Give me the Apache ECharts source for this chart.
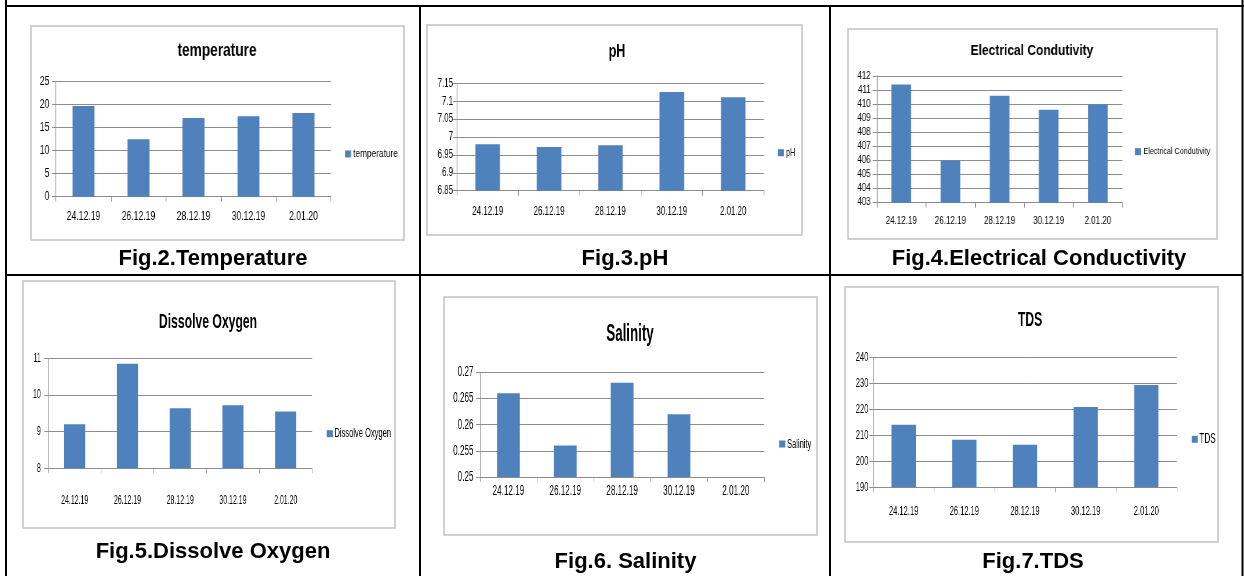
<!DOCTYPE html>
<html>
<head>
<meta charset="utf-8">
<title>Water quality parameters</title>
<script src="https://cdn.jsdelivr.net/npm/echarts@6/dist/echarts.min.js"></script>
<style>
  html, body { margin: 0; padding: 0; background: #fff; }
  #page { position: relative; width: 1244px; height: 576px; overflow: hidden; }
  #frame { position: absolute; left: 0; top: 0; width: 1244px; height: 576px; }
  .panel { position: absolute; transform-origin: 0 0; }
</style>
</head>
<body>
<div id="page"><div id="frame"></div></div>
<script>
// sampling dates (x axis of every figure)
var dates = ['24.12.19', '26.12.19', '28.12.19', '30.12.19', '2.01.20'];

var temperature = [19.7, 12.5, 17.1, 17.5, 18.2];
var ph = [6.98, 6.972, 6.977, 7.126, 7.111];
var conductivity = [411.4, 406.0, 410.6, 409.6, 410.0];
var dissolveOxygen = [9.2, 10.85, 9.64, 9.72, 9.55];
var salinity = [0.266, 0.256, 0.268, 0.262, null];
var tds = [214.1, 208.3, 206.4, 220.9, 229.3];

// y axis ticks: [min, max, step]
var temperatureTicks = [0, 25, 5];
var phTicks = [6.85, 7.15, 0.05];
var conductivityTicks = [403, 412, 1];
var dissolveOxygenTicks = [8, 11, 1];
var salinityTicks = [0.25, 0.27, 0.005];
var tdsTicks = [190, 240, 10];

var FONT = '"Liberation Sans", Arial, sans-serif';
var BAR = '#4F81BD';
var GRID = '#8c8c8c';

// one spec per excel chart: box = chart area, plot = axis rectangle (page px),
// k = horizontal squeeze of the pasted picture
var panels = [
  { title: 'temperature', data: temperature, ticks: temperatureTicks, caption: 'Fig.2.Temperature',
    box: [31, 26, 404, 240], plot: [56, 81.7, 331, 196.7], k: 0.72,
    titleXY: [217, 53], titleSize: 19, labelSize: 12, legendSize: 11.5, legendXY: [345, 153.7],
    xMargin: 14, yGap: 6.5, cap: [213, 259] },
  { title: 'pH', data: ph, ticks: phTicks, caption: 'Fig.3.pH',
    box: [427, 25, 802, 235], plot: [457, 83.3, 764, 190.7], k: 0.66,
    titleXY: [617, 54], titleSize: 19, labelSize: 12, legendSize: 11, legendXY: [778, 152.7],
    xMargin: 15, yGap: 4, cap: [625, 259] },
  { title: 'Electrical Condutivity', data: conductivity, ticks: conductivityTicks, caption: 'Fig.4.Electrical Conductivity',
    box: [848, 29, 1217, 239], plot: [876.7, 76, 1122.7, 202.7], k: 0.8,
    titleXY: [1032, 52], titleSize: 15, labelSize: 10, legendSize: 9, legendXY: [1135, 151.7],
    xMargin: 13.5, yGap: 6, cap: [1039, 259] },
  { title: 'Dissolve Oxygen', data: dissolveOxygen, ticks: dissolveOxygenTicks, caption: 'Fig.5.Dissolve Oxygen',
    box: [23, 281, 395, 528], plot: [48.3, 358.3, 312.3, 468.3], k: 0.58,
    titleXY: [208, 324], titleSize: 21, labelSize: 12, legendSize: 13, legendXY: [326.7, 433.7],
    xMargin: 26, yGap: 7.5, cap: [213, 552] },
  { title: 'Salinity', data: salinity, ticks: salinityTicks, caption: 'Fig.6. Salinity',
    box: [444, 297, 817, 535], plot: [480, 372.3, 764.3, 477], k: 0.58,
    titleXY: [630, 337], titleSize: 23, labelSize: 14, legendSize: 13, legendXY: [779.3, 444],
    xMargin: 7, yGap: 6.5, cap: [625.5, 562] },
  { title: 'TDS', data: tds, ticks: tdsTicks, caption: 'Fig.7.TDS',
    box: [845, 287, 1218, 542], plot: [873.3, 357.3, 1176.7, 487.3], k: 0.58,
    titleXY: [1030, 322], titleSize: 21, labelSize: 13, legendSize: 14, legendXY: [1191.7, 439.3],
    xMargin: 18, yGap: 5, cap: [1033, 562] }
];

// ---- table frame, chart-area borders and figure captions ----
var frame = echarts.init(document.getElementById('frame'));
var elements = [];
function line(x1, y1, x2, y2) {
  elements.push({ type: 'line', shape: { x1: x1, y1: y1, x2: x2, y2: y2 },
    style: { stroke: '#000', lineWidth: 2 } });
}
line(5, 6, 1244, 6);
line(6, 0, 6, 576);
line(1242.5, 0, 1242.5, 576);
line(420, 6, 420, 576);
line(830, 6, 830, 576);
line(6, 275, 1243, 275);

panels.forEach(function (p) {
  elements.push({
    type: 'rect',
    shape: { x: p.box[0], y: p.box[1], width: p.box[2] - p.box[0], height: p.box[3] - p.box[1] },
    style: { fill: '#fff', stroke: '#c2c2c2', lineWidth: 1.5 }
  });
  elements.push({
    type: 'text', x: p.cap[0], y: p.cap[1],
    style: { text: p.caption, font: 'bold 22px ' + FONT, fill: '#000', align: 'center', verticalAlign: 'middle' }
  });
});
frame.setOption({ animation: false, graphic: { elements: elements } });

// ---- the six bar charts ----
var page = document.getElementById('page');
panels.forEach(function (p) {
  var k = p.k;
  var l = p.box[0], t = p.box[1];
  var w = (p.box[2] - l) / k, h = p.box[3] - t;

  var div = document.createElement('div');
  div.className = 'panel';
  div.style.left = l + 'px';
  div.style.top = t + 'px';
  div.style.width = w + 'px';
  div.style.height = h + 'px';
  div.style.transform = 'scaleX(' + k + ')';
  page.appendChild(div);

  var chart = echarts.init(div);
  chart.setOption({
    animation: false,
    backgroundColor: 'transparent',
    title: {
      text: p.title,
      left: (p.titleXY[0] - l) / k,
      top: p.titleXY[1] - t - p.titleSize * 0.6,
      textAlign: 'center',
      padding: 0,
      textStyle: { fontFamily: FONT, fontWeight: 'bold', fontSize: p.titleSize, color: '#000' }
    },
    legend: {
      data: [p.title],
      left: (p.legendXY[0] - l) / k,
      top: p.legendXY[1] - t - Math.max(7, p.legendSize) / 2,
      padding: 0,
      icon: 'rect',
      itemWidth: 6 / k,
      itemHeight: 7,
      itemGap: 0,
      textStyle: { fontFamily: FONT, fontSize: p.legendSize, color: '#000', padding: [0, 0, 0, -2] }
    },
    grid: {
      left: (p.plot[0] - l) / k,
      right: (p.box[2] - p.plot[2]) / k,
      top: p.plot[1] - t,
      bottom: p.box[3] - p.plot[3],
      containLabel: false
    },
    xAxis: {
      type: 'category',
      data: dates,
      axisLine: { lineStyle: { color: GRID, width: 1 } },
      axisTick: { show: true, length: 5, lineStyle: { color: GRID } },
      axisLabel: { fontFamily: FONT, fontSize: p.labelSize, color: '#000', margin: p.xMargin, interval: 0 }
    },
    yAxis: {
      type: 'value',
      min: p.ticks[0],
      max: p.ticks[1],
      interval: p.ticks[2],
      axisLine: { show: true, lineStyle: { color: GRID, width: 1 } },
      axisTick: { show: true, length: 4 / k, lineStyle: { color: GRID } },
      axisLabel: { fontFamily: FONT, fontSize: p.labelSize, color: '#000', margin: p.yGap / k },
      splitLine: { lineStyle: { color: GRID, width: 1 } }
    },
    series: [{
      name: p.title,
      type: 'bar',
      data: p.data,
      barWidth: '40%',
      itemStyle: { color: BAR }
    }]
  });
});
</script>
</body>
</html>
